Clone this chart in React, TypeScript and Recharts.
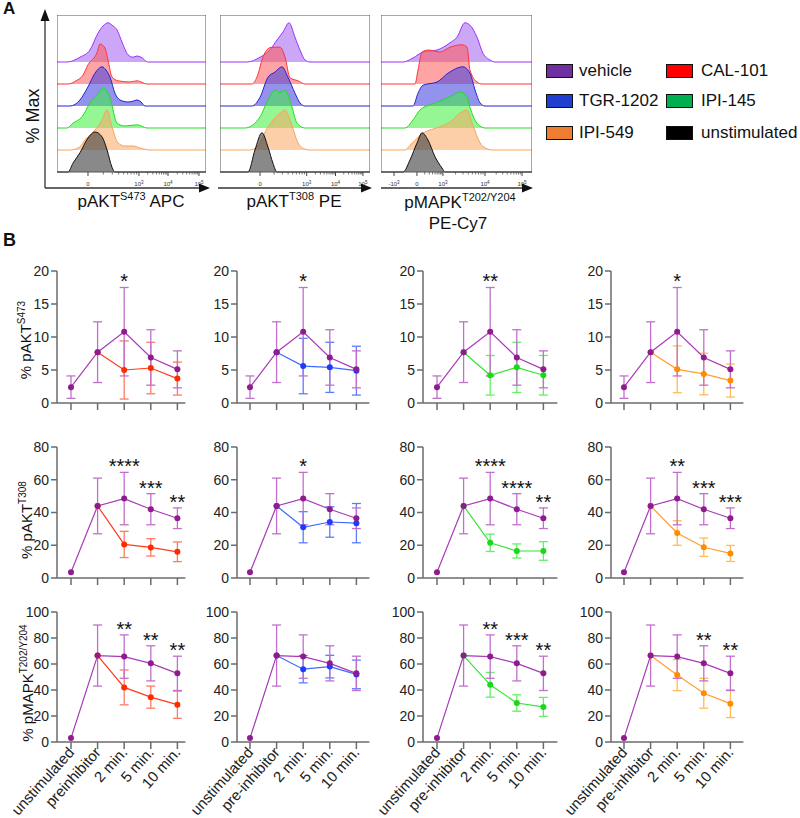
import React from 'react';
import {
  ComposedChart,
  Area,
  Line,
  Scatter,
  ErrorBar,
  XAxis,
  YAxis,
  ReferenceArea,
} from 'recharts';

const FONT = '"Liberation Sans", Arial, Helvetica, sans-serif';
const AXIS = '#6b6b6b';

// ---------- Panel A: flow histograms (x = % of panel width, h = % of max) ----------
const histRowNames = ['vehicle', 'CAL-101', 'TGR-1202', 'IPI-145', 'IPI-549', 'unstimulated'];

const s473HistVehicle = [[6.7, 0], [15.4, 12], [22.1, 30], [27.5, 72], [30.9, 90], [34.2, 98], [36.9, 92], [40.3, 80], [43.6, 50], [47.7, 18], [51, 12], [53.7, 15], [56.4, 12], [61, 0]];
const s473HistCal = [[7.4, 0], [12.8, 8], [17.4, 22], [20.8, 48], [26.8, 78], [28.9, 100], [32.2, 90], [34.2, 60], [36.9, 18], [40.9, 8], [49, 5], [53.7, 8], [60.4, 0]];
const s473HistTgr = [[8.7, 0], [15.4, 15], [20.8, 48], [25.5, 82], [30.2, 98], [32.9, 90], [35.6, 72], [38.9, 32], [42.3, 15], [47.7, 10], [51, 12], [53.7, 15], [56.4, 10], [59.1, 0]];
const s473HistIpi145 = [[6.7, 0], [10.7, 12], [16.8, 28], [22.1, 62], [26.8, 82], [30.9, 100], [35.6, 75], [40.3, 12], [45.6, 5], [53.7, 8], [60.4, 0]];
const s473HistIpi549 = [[8.7, 0], [15.4, 8], [18.8, 25], [25.5, 50], [30.2, 75], [33.6, 100], [36.9, 58], [40.9, 18], [45.6, 10], [51, 10], [55.7, 5], [62.4, 0]];
const s473HistUnstim = [[7.4, 0], [10.7, 22], [15.4, 48], [20.8, 85], [25.5, 100], [30.2, 88], [33.6, 55], [36.9, 12], [38.9, 0]];

const t308HistVehicle = [[18, 0], [26.7, 12], [33.3, 30], [38, 55], [42, 75], [46, 98], [50, 62], [53.3, 30], [56.7, 5], [60, 0]];
const t308HistCal = [[21.3, 0], [24.7, 18], [28.7, 68], [32, 88], [34.7, 92], [40, 92], [43.3, 68], [46.7, 15], [52, 8], [56.7, 0]];
const t308HistTgr = [[21.3, 0], [26.7, 22], [32, 72], [36.7, 85], [41.3, 98], [45.3, 72], [50, 32], [53.3, 8], [56.7, 0]];
const t308HistIpi145 = [[16.7, 0], [26.7, 28], [32, 70], [36.7, 95], [40, 88], [43.3, 95], [48, 52], [51.3, 12], [56.7, 0]];
const t308HistIpi549 = [[20, 0], [24.7, 8], [32, 58], [40, 92], [43.3, 100], [46.7, 75], [52, 18], [56.7, 2], [60, 0]];
const t308HistUnstim = [[18.7, 0], [23.3, 55], [28, 98], [32, 62], [35.3, 22], [38, 0]];

const mapkHistVehicle = [[14.6, 0], [21.2, 10], [27.8, 25], [37.1, 30], [45.7, 48], [50.3, 62], [55.6, 98], [58.9, 92], [63.6, 62], [67.5, 22], [72.2, 5], [75.5, 0]];
const mapkHistCal = [[22.5, 0], [24.5, 35], [27.2, 80], [31.1, 85], [39.1, 80], [45.7, 92], [53.6, 98], [57, 92], [58.9, 35], [63.6, 5], [66.9, 0]];
const mapkHistTgr = [[21.2, 0], [24.5, 32], [27.8, 52], [37.1, 60], [44.4, 82], [54.3, 98], [58.9, 82], [62.3, 40], [65.6, 8], [68.9, 0]];
const mapkHistIpi145 = [[15.9, 0], [21.2, 20], [25.8, 45], [32.5, 58], [41.1, 70], [47.7, 82], [52.3, 90], [57, 78], [58.9, 52], [63.6, 12], [68.9, 0]];
const mapkHistIpi549 = [[15.9, 0], [19.2, 12], [27.8, 42], [39.1, 58], [45.7, 70], [52.3, 92], [57, 100], [60.3, 68], [65.6, 18], [70.9, 2], [73.5, 0]];
const mapkHistUnstim = [[14.6, 0], [19.2, 30], [23.8, 72], [27.2, 98], [31.1, 80], [35.8, 38], [40.4, 10], [42.4, 0]];

const s473TickPos = [20.8, 55, 74.5, 95.3];
const s473TickLabels = ['0', '10^3', '10^4', '10^5'];
const t308TickPos = [26.7, 57.8, 77, 95.3];
const t308TickLabels = ['0', '10^3', '10^4', '10^5'];
const mapkTickPos = [8.6, 23.8, 41, 68.9, 93.4];
const mapkTickLabels = ['-10^3', '0', '10^3', '10^4', '10^5'];

const histStroke = ['#9b30ff', '#ff3535', '#2424d0', '#22dd22', '#f6a55a', '#111111'];
const histFill = ['#a25ef0', '#ff5a5a', '#3a3ae0', '#3cf03c', '#f9a862', '#3a3a3a'];

// ---------- Panel B: time courses ----------
const catsA = ['unstimulated', 'preinhibitor', '2 min.', '5 min.', '10 min.'];
const catsB = ['unstimulated', 'pre-inhibitor', '2 min.', '5 min.', '10 min.'];

const s473Veh = [2.4, 7.7, 10.8, 6.9, 5.1];
const s473VehSd = [1.7, 4.6, 6.7, 4.2, 2.8];
const s473Cal = [null, 7.7, 5.0, 5.3, 3.7];
const s473CalSd = [null, null, 4.4, 3.9, 2.5];
const s473Tgr = [null, 7.7, 5.6, 5.4, 4.9];
const s473TgrSd = [null, null, 4.2, 3.8, 3.7];
const s473Ipi145 = [null, 7.7, 4.2, 5.4, 4.2];
const s473Ipi145Sd = [null, null, 3.0, 3.8, 3.0];
const s473Ipi549 = [null, 7.7, 5.1, 4.4, 3.4];
const s473Ipi549Sd = [null, null, 3.55, 3.15, 2.5];

const t308Veh = [3.5, 44, 48.5, 42, 36.5];
const t308VehSd = [null, 17, 16, 9.5, 6.3];
const t308Cal = [null, 44, 20.5, 18.7, 16];
const t308CalSd = [null, null, 8, 5.3, 6];
const t308Tgr = [null, 44, 31, 34.2, 33.5];
const t308TgrSd = [null, null, 9.5, 9.3, 12];
const t308Ipi145 = [null, 44, 21.5, 16.5, 16.5];
const t308Ipi145Sd = [null, null, 5.3, 4.3, 5.7];
const t308Ipi549 = [null, 44, 27.5, 18.8, 15];
const t308Ipi549Sd = [null, null, 7.5, 5.6, 4.9];

const mapkVeh = [3, 66.5, 65.7, 60.5, 52.8];
const mapkVehSd = [null, 23.5, 16.7, 13.5, 13.2];
const mapkCal = [null, 66.5, 42, 34.5, 28.7];
const mapkCalSd = [null, null, 13.4, 8.5, 10.5];
const mapkTgr = [null, 66.5, 56, 58, 52];
const mapkTgrSd = [null, null, 10.5, 8.7, 11];
const mapkIpi145 = [null, 66.5, 44, 30, 27];
const mapkIpi145Sd = [null, null, 9.5, 6.3, 7.3];
const mapkIpi549 = [null, 66.5, 51.5, 37.5, 29.5];
const mapkIpi549Sd = [null, null, 12, 11.5, 10.7];

const s473Stars = [
  ['', '', '*', '', ''],
  ['', '', '*', '', ''],
  ['', '', '**', '', ''],
  ['', '', '*', '', ''],
];
const t308Stars = [
  ['', '', '****', '***', '**'],
  ['', '', '*', '', ''],
  ['', '', '****', '****', '**'],
  ['', '', '**', '***', '***'],
];
const mapkStars = [
  ['', '', '**', '**', '**'],
  ['', '', '', '', ''],
  ['', '', '**', '***', '**'],
  ['', '', '', '**', '**'],
];

const vehColor = { line: '#a83ab8', dot: '#8e1c8e', err: '#c070cc' };
const inhColors = [
  { line: '#ff3b1a', dot: '#ff2a00', err: '#ff7a66' },
  { line: '#3d6bff', dot: '#1e3cff', err: '#5b7dff' },
  { line: '#33e633', dot: '#19d919', err: '#66ee66' },
  { line: '#ffa030', dot: '#ff8c00', err: '#ffbb55' },
];

const legendItems = [
  ['vehicle', '#7030a0'],
  ['CAL-101', '#ff0000'],
  ['TGR-1202', '#1f3fcf'],
  ['IPI-145', '#00b050'],
  ['IPI-549', '#ed7d31'],
  ['unstimulated', '#000000'],
];

// ---------- layout ----------
const HIST_H = 157;
const ROW = 55; // row offset in %Max units (22px at 0.4px per %)
const HIST_YMAX = 392.5;
const STEP = 26.6;
const EXTRA_L = 60; // room on the left for the rotated category labels

const colX = [57, 237, 423, 611];
const colPadL = [14, 13, 14, 13];
const colPadR = [8, 13, 14, 13];

function histTicks(pos: number[], labels: string[]) {
  const out = [...pos];
  const z = labels.indexOf('0');
  for (let j = z; j < pos.length - 1; j++) {
    for (let k = 2; k <= 9; k++) out.push(pos[j] + (pos[j + 1] - pos[j]) * Math.log10(k));
  }
  return out.sort((a, b) => a - b);
}

function HistTick(props: any) {
  const { x, payload, majors, labels } = props;
  const idx = majors.indexOf(payload.value);
  const major = idx >= 0;
  let base = '';
  let exp = '';
  if (major) {
    const parts = labels[idx].split('^');
    base = parts[0];
    exp = parts[1] || '';
  }
  return (
    <g>
      <line x1={x} x2={x} y1={HIST_H} y2={HIST_H + (major ? 4 : 2.5)} stroke="#444" strokeWidth={major ? 1 : 0.7} />
      {major && (
        <text x={x} y={HIST_H + 14} textAnchor="middle" fontSize={6} fill="#333" fontFamily={FONT}>
          {base}
          {exp && <tspan dy={-2.5} fontSize={4.5}>{exp}</tspan>}
        </text>
      )}
    </g>
  );
}

function Histogram({ left, width, curves, tickPos, tickLabels }: any) {
  const ticks = histTicks(tickPos, tickLabels);
  return (
    <div style={{ position: 'absolute', left, top: 15 }}>
      <ComposedChart width={width} height={HIST_H + 22} margin={{ top: 0, right: 0, bottom: 0, left: 0 }}>
        <XAxis
          type="number"
          dataKey="x"
          domain={[0, 100]}
          ticks={ticks}
          interval={0}
          height={22}
          axisLine={false}
          tickLine={false}
          tick={<HistTick majors={tickPos} labels={tickLabels} />}
        />
        <YAxis type="number" hide domain={[0, HIST_YMAX]} />
        {curves.map((c: number[][], k: number) => {
          const off = (5 - k) * ROW;
          const pts = [{ x: 0, v: off }, ...c.map((p) => ({ x: p[0], v: off + p[1] })), { x: 100, v: off }];
          return (
            <Area
              key={histRowNames[k]}
              data={pts}
              dataKey="v"
              baseValue={off}
              type="monotone"
              stroke={histStroke[k]}
              strokeWidth={1}
              fill={histFill[k]}
              fillOpacity={k === 5 ? 0.6 : 0.55}
              dot={false}
              activeDot={false}
              isAnimationActive={false}
            />
          );
        })}
        <ReferenceArea x1={0} x2={100} y1={0} y2={HIST_YMAX} fill="none" fillOpacity={0} stroke="#555" strokeWidth={1} />
      </ComposedChart>
    </div>
  );
}

function EmptyTick() {
  return null;
}

function RotTick(props: any) {
  const { x, y, payload, cats } = props;
  const tx = x + 4;
  const ty = y + 2;
  return (
    <text x={tx} y={ty} transform={`rotate(-48 ${tx} ${ty})`} textAnchor="end" fontSize={15} fill="#222" fontFamily={FONT}>
      {cats[payload.value]}
    </text>
  );
}

function SigShape(props: any) {
  const { cx, cy, payload } = props;
  return (
    <text x={cx} y={cy + 1} textAnchor="middle" fontSize={20} fill="#111" fontFamily={FONT}>
      {payload.s}
    </text>
  );
}

function LineCell({ col, top, plotH, yMax, yTicks, veh, vehSd, inh, inhSd, stars, cats }: any) {
  const padL = colPadL[col];
  const padR = colPadR[col];
  const plotW = padL + 4 * STEP + padR;
  const xh = cats ? 78 : 14;
  const color = inhColors[col];
  const data = veh.map((v: number, i: number) => ({ i, veh: v, vehSd: vehSd[i], inh: inh[i], inhSd: inhSd[i] }));
  const sig = stars
    .map((s: string, i: number) => ({ i, y: veh[i] + (vehSd[i] || 0), s }))
    .filter((d: any) => d.s);
  return (
    <div style={{ position: 'absolute', left: colX[col] - 40 - EXTRA_L, top: top - 20 }}>
      <ComposedChart
        width={EXTRA_L + 40 + plotW + 12}
        height={20 + plotH + xh}
        data={data}
        margin={{ top: 20, right: 12, bottom: 0, left: EXTRA_L }}
      >
        <XAxis
          type="number"
          dataKey="i"
          domain={[-padL / STEP, 4 + padR / STEP]}
          ticks={[0, 1, 2, 3, 4]}
          interval={0}
          height={xh}
          tickSize={7}
          tickLine={{ stroke: AXIS, strokeWidth: 1.5 }}
          axisLine={{ stroke: AXIS, strokeWidth: 1.5 }}
          tick={cats ? <RotTick cats={cats} /> : <EmptyTick />}
        />
        <YAxis
          type="number"
          domain={[0, yMax]}
          ticks={yTicks}
          interval={0}
          width={40}
          tickSize={6}
          tickLine={{ stroke: AXIS, strokeWidth: 1.5 }}
          axisLine={{ stroke: AXIS, strokeWidth: 1.5 }}
          tick={{ fontSize: 14, fill: '#222', fontFamily: FONT }}
        />
        <Line
          dataKey="inh"
          stroke={color.line}
          strokeWidth={1.2}
          dot={{ r: 3, fill: color.dot, stroke: color.dot, strokeWidth: 0 }}
          activeDot={false}
          isAnimationActive={false}
        >
          <ErrorBar dataKey="inhSd" direction="y" width={4.5} stroke={color.err} strokeWidth={1.3} />
        </Line>
        <Line
          dataKey="veh"
          stroke={vehColor.line}
          strokeWidth={1.2}
          dot={{ r: 3, fill: vehColor.dot, stroke: vehColor.dot, strokeWidth: 0 }}
          activeDot={false}
          isAnimationActive={false}
        >
          <ErrorBar dataKey="vehSd" direction="y" width={4.5} stroke={vehColor.err} strokeWidth={1.3} />
        </Line>
        <Scatter data={sig} dataKey="y" shape={<SigShape />} isAnimationActive={false} />
      </ComposedChart>
    </div>
  );
}

const rowsB = [
  {
    top: 271, plotH: 132, yMax: 20, yTicks: [0, 5, 10, 15, 20],
    veh: s473Veh, vehSd: s473VehSd,
    inh: [s473Cal, s473Tgr, s473Ipi145, s473Ipi549],
    inhSd: [s473CalSd, s473TgrSd, s473Ipi145Sd, s473Ipi549Sd],
    stars: s473Stars,
  },
  {
    top: 447, plotH: 131, yMax: 80, yTicks: [0, 20, 40, 60, 80],
    veh: t308Veh, vehSd: t308VehSd,
    inh: [t308Cal, t308Tgr, t308Ipi145, t308Ipi549],
    inhSd: [t308CalSd, t308TgrSd, t308Ipi145Sd, t308Ipi549Sd],
    stars: t308Stars,
  },
  {
    top: 612, plotH: 130, yMax: 100, yTicks: [0, 20, 40, 60, 80, 100],
    veh: mapkVeh, vehSd: mapkVehSd,
    inh: [mapkCal, mapkTgr, mapkIpi145, mapkIpi549],
    inhSd: [mapkCalSd, mapkTgrSd, mapkIpi145Sd, mapkIpi549Sd],
    stars: mapkStars,
  },
];

function Arrow({ x1, x2, y }: any) {
  return (
    <g>
      <line x1={x1} y1={y} x2={x2 - 9} y2={y} stroke="#333" strokeWidth={1.3} />
      <polygon points={`${x2},${y} ${x2 - 11},${y - 4.5} ${x2 - 11},${y + 4.5}`} fill="#111" />
    </g>
  );
}

export default function App() {
  return (
    <div style={{ position: 'absolute', left: 0, top: 0, width: 800, height: 818, background: '#fff', overflow: 'hidden', fontFamily: FONT }}>
      <Histogram left={57} width={149} curves={[s473HistVehicle, s473HistCal, s473HistTgr, s473HistIpi145, s473HistIpi549, s473HistUnstim]} tickPos={s473TickPos} tickLabels={s473TickLabels} />
      <Histogram left={220} width={150} curves={[t308HistVehicle, t308HistCal, t308HistTgr, t308HistIpi145, t308HistIpi549, t308HistUnstim]} tickPos={t308TickPos} tickLabels={t308TickLabels} />
      <Histogram left={381} width={151} curves={[mapkHistVehicle, mapkHistCal, mapkHistTgr, mapkHistIpi145, mapkHistIpi549, mapkHistUnstim]} tickPos={mapkTickPos} tickLabels={mapkTickLabels} />

      {legendItems.map(([name, c], k) => {
        const col = k % 2;
        const row = Math.floor(k / 2);
        const bx = col === 0 ? 546 : 666;
        const by = [63, 93, 125][row];
        return (
          <div key={name} style={{ position: 'absolute', left: bx, top: by, display: 'flex', alignItems: 'center' }}>
            <div style={{ width: 25, height: 12, background: c, border: '1.5px solid #111' }} />
            <div style={{ marginLeft: col === 0 ? 6 : 8, fontSize: 17, lineHeight: '15px', color: '#111', whiteSpace: 'nowrap' }}>{name}</div>
          </div>
        );
      })}

      {rowsB.map((r, ri) =>
        [0, 1, 2, 3].map((c) => (
          <LineCell
            key={`${ri}-${c}`}
            col={c}
            top={r.top}
            plotH={r.plotH}
            yMax={r.yMax}
            yTicks={r.yTicks}
            veh={r.veh}
            vehSd={r.vehSd}
            inh={r.inh[c]}
            inhSd={r.inhSd[c]}
            stars={r.stars[c]}
            cats={ri === 2 ? (c === 0 ? catsA : catsB) : null}
          />
        ))
      )}

      <svg width={800} height={818} style={{ position: 'absolute', left: 0, top: 0, pointerEvents: 'none' }} fontFamily={FONT}>
        <text x={3} y={14} fontSize={17} fontWeight="bold" fill="#111">A</text>
        <text x={3} y={246} fontSize={18} fontWeight="bold" fill="#111">B</text>

        <line x1={45} y1={188} x2={45} y2={20} stroke="#333" strokeWidth={1.3} />
        <polygon points="45,9 40.5,21 49.5,21" fill="#111" />
        <Arrow x1={45} x2={210} y={188} />
        <Arrow x1={218} x2={372} y={188} />
        <Arrow x1={381} x2={533} y={188} />

        <text x={39} y={116} transform="rotate(-90 39 116)" textAnchor="middle" fontSize={18} fill="#111">% Max</text>

        <text x={131} y={207} textAnchor="middle" fontSize={17} fill="#111" style={{ whiteSpace: 'pre' }}>
          pAKT<tspan dy={-7} fontSize={11}>S473</tspan><tspan dy={7} fontSize={17}> APC</tspan>
        </text>
        <text x={294} y={207} textAnchor="middle" fontSize={17} fill="#111" style={{ whiteSpace: 'pre' }}>
          pAKT<tspan dy={-7} fontSize={11}>T308</tspan><tspan dy={7} fontSize={17}> PE</tspan>
        </text>
        <text x={460} y={208} textAnchor="middle" fontSize={17} fill="#111">
          pMAPK<tspan dy={-7} fontSize={11}>T202/Y204</tspan>
        </text>
        <text x={458} y={229} textAnchor="middle" fontSize={17} fill="#111">PE-Cy7</text>

        <text x={31} y={340} transform="rotate(-90 31 340)" textAnchor="middle" fontSize={15} fill="#111">
          % pAKT<tspan dy={-6} fontSize={10}>S473</tspan>
        </text>
        <text x={32} y={520} transform="rotate(-90 32 520)" textAnchor="middle" fontSize={15} fill="#111">
          % pAKT<tspan dy={-6} fontSize={10}>T308</tspan>
        </text>
        <text x={33} y={683} transform="rotate(-90 33 683)" textAnchor="middle" fontSize={15} fill="#111">
          % pMAPK<tspan dy={-6} fontSize={10}>T202/Y204</tspan>
        </text>
      </svg>
    </div>
  );
}
